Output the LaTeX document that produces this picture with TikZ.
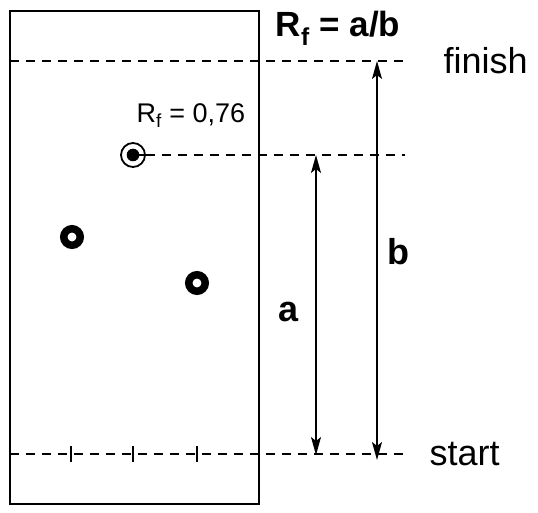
\documentclass[tikz,border=0pt]{standalone}
\usepackage{fontspec}
\setmainfont{Liberation Sans}
\usetikzlibrary{arrows.meta}

\begin{document}
\begin{tikzpicture}[x=1pt,y=-1pt,>={Stealth[length=18pt,width=10pt,inset=4pt]},
  guide/.style={line width=1.3pt,dash pattern=on 9pt off 7pt},
  ring/.style={circle,draw,line width=7.5pt,minimum size=16.5pt,inner sep=0pt},
  bigtext/.style={font=\fontsize{36}{36}\selectfont},
  boldtext/.style={font=\fontsize{36}{36}\selectfont\bfseries}]
  \useasboundingbox (0,0) rectangle (538,513);
  % plate
  \draw[line width=1.8pt] (10,11) rectangle (259,504);
  % start and finish lines
  \coordinate (s0) at (10,454);
  \coordinate (s1) at (408,454);
  \coordinate (f0) at (10,61);
  \coordinate (f1) at (410,61);
  \draw[guide] (s0) -- (s1);
  \draw[guide] (f0) -- (f1);
  \node[bigtext,anchor=west] (start) at (426,454) {start};
  \node[bigtext,anchor=west] (finish) at (440,61) {finish};
  \foreach \x in {71,133,197}
    \draw[line width=1.3pt] (\x,446) -- (\x,462);
  % spots
  \node[circle,draw,line width=1.8pt,minimum size=24pt,inner sep=0pt] (ref) at (133,155) {};
  \fill (ref.center) circle (6.3pt);
  \draw[line width=1.8pt] (ref.center) -- (ref.east);
  \node[ring] (spotA) at (72,237) {};
  \node[ring] (spotB) at (197,283) {};
  \coordinate (r1) at (405,155);
  \draw[guide] (ref.east) -- (r1);
  \node[font=\fontsize{27}{27}\selectfont] (rf) at (191,116) {R\textsubscript{f} = 0,76};
  % distances
  \coordinate (a0) at (316,155);
  \coordinate (a1) at (316,455);
  \coordinate (b0) at (377,61);
  \coordinate (b1) at (377,460);
  \draw[<->,line width=1.3pt] (a0) -- (a1);
  \draw[<->,line width=1.3pt] (b0) -- (b1);
  \node[boldtext] (la) at (289,312) {a};
  \node[boldtext] (lb) at (398,252) {b};
  \node[font=\fontsize{35}{35}\selectfont\bfseries] (title) at (338,28) {R\textsubscript{f} = a/b};
\end{tikzpicture}
\end{document}
